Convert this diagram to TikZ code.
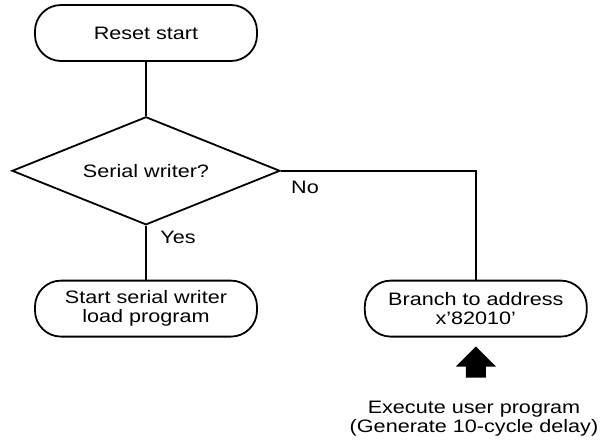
\documentclass[tikz,border=0pt]{standalone}
\usepackage{fontspec}
\setmainfont{Liberation Sans}[FakeStretch=1.2]
\usetikzlibrary{positioning, shapes.geometric}

\begin{document}
\begin{tikzpicture}[x=1pt, y=-1pt,
          n/.style={draw, rounded corners=26pt, minimum width=222pt, minimum height=56pt,
                    align=center, inner sep=0pt},
          dec/.style={draw, diamond, aspect=2.5, minimum width=268pt, minimum height=108pt,
                      inner sep=0pt},
          lbl/.style={inner sep=0pt},
          line width=1.8pt, font=\fontsize{18}{19}\selectfont]
        \useasboundingbox (0,0) rectangle (603,440);
        \node[n] (reset) at (146,33) {Reset start};
        \node[dec, below=54pt of reset] (ser) {Serial writer?};
        \node[n, below=54pt of ser] (load) {Start serial writer\\load program};
        \node[n, right=106pt of load] (branch) {Branch to address\\x’82010’};
        \draw (reset) -- (ser);
        \draw (ser) -- (load);
        \draw (ser.east) -| (branch.north);
        \node[lbl] (yes) at (178,237) {Yes};
        \node[lbl] (no) at (305,187) {No};
        % block arrow under the branch box
        \coordinate[below=9pt of branch.south] (tip);
        \fill (tip) -- ++(20,20) -- ++(-10,0) -- ++(0,11) -- ++(-20,0) -- ++(0,-11) -- ++(-10,0) -- cycle;
        \node[align=center, inner sep=0pt] (exec) at (474,419) {Execute user program\\(Generate 10-cycle delay)};
      \end{tikzpicture}
\end{document}
